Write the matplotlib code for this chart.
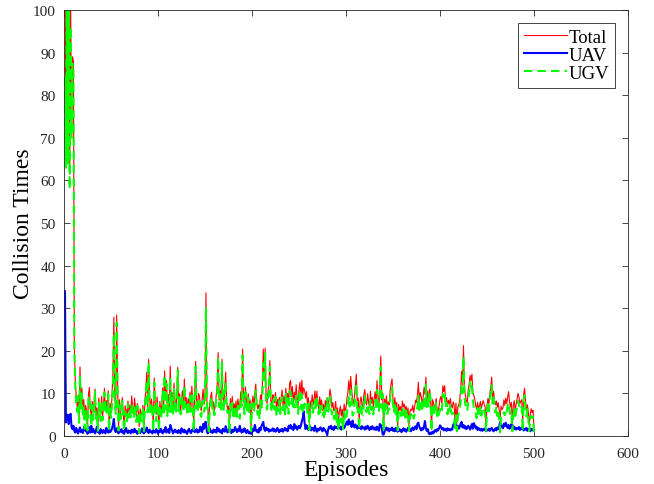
import matplotlib
matplotlib.use("Agg")
import matplotlib.pyplot as plt
import numpy as np

# Collisions per training episode
total = [
    118, 66.2, 108.5, 69.0, 104.8, 62.8, 101.2, 72.1, 89.0, 88.0,
    21.0, 12.5, 9.4, 6.8, 9.6, 4.5, 16.2, 7.4, 11.3, 5.2,
    8.6, 4.1, 7.2, 5.8, 1.8, 9.8, 11.4, 6.3, 4.7, 8.1,
    5.5, 7.9, 11.0, 4.8, 6.6, 2.1, 8.9, 6.0, 5.1, 9.3,
    4.4, 7.0, 11.2, 5.9, 8.3, 6.2, 10.6, 2.6, 7.7, 5.4,
    9.1, 14.6, 27.9, 8.8, 6.1, 28.4, 12.3, 1.9, 8.5, 4.9,
    7.4, 9.0, 5.3, 1.6, 7.1, 6.0, 4.2, 8.2, 5.6, 7.3,
    4.8, 9.4, 6.5, 5.0, 8.9, 6.8, 4.5, 7.6, 5.7, 2.2,
    6.4, 4.9, 5.3, 7.2, 1.7, 8.0, 10.8, 15.0, 6.7, 18.0,
    9.6, 5.8, 8.7, 6.3, 2.5, 13.6, 7.8, 5.1, 9.2, 6.0,
    2.4, 8.1, 5.5, 7.0, 11.3, 6.2, 15.3, 8.4, 13.0, 5.9,
    9.7, 6.4, 16.4, 7.5, 10.2, 5.3, 12.4, 8.6, 6.1, 9.8,
    16.1, 7.2, 9.9, 5.7, 8.3, 10.6, 6.5, 13.4, 7.6, 9.0,
    5.8, 8.8, 7.1, 10.3, 6.4, 11.7, 7.9, 3.1, 9.4, 17.5,
    8.1, 6.3, 10.0, 9.5, 7.2, 5.9, 8.7, 11.0, 7.4, 9.8,
    33.6, 8.2, 6.5, 2.4, 7.8, 9.1, 10.3, 6.6, 8.0, 5.9,
    7.3, 9.8, 12.1, 19.6, 8.4, 10.7, 7.5, 18.0, 9.2, 6.8,
    11.4, 15.0, 8.1, 6.2, 7.0, 2.8, 8.8, 6.1, 9.3, 5.7,
    7.6, 6.0, 8.2, 5.4, 8.7, 7.1, 6.5, 10.4, 7.8, 20.4,
    9.0, 6.9, 11.5, 8.3, 7.4, 9.9, 6.2, 8.5, 1.6, 7.7,
    9.4, 6.8, 10.1, 12.2, 8.0, 6.4, 7.3, 5.8, 9.6, 8.2,
    11.8, 20.4, 13.9, 20.6, 9.1, 7.6, 10.5, 12.0, 17.7, 8.4,
    6.9, 9.7, 9.5, 7.8, 10.2, 6.4, 8.6, 7.0, 9.1, 6.7,
    8.9, 10.8, 7.1, 9.4, 6.5, 11.2, 8.3, 10.0, 7.6, 12.4,
    13.0, 9.2, 11.6, 7.5, 10.3, 8.4, 12.0, 9.0, 7.2, 10.9,
    12.6, 8.7, 13.1, 9.6, 11.3, 10.6, 8.9, 10.4, 7.4, 9.0,
    3.0, 8.2, 6.9, 9.7, 7.3, 8.6, 10.6, 7.5, 10.5, 8.0,
    6.4, 9.2, 7.1, 8.5, 6.0, 7.4, 5.5, 8.3, 6.8, 9.0,
    7.2, 8.6, 11.0, 9.4, 6.7, 7.9, 5.9, 6.2, 8.1, 5.3,
    6.6, 3.6, 5.8, 7.0, 4.7, 6.3, 3.9, 7.5, 5.9, 6.5,
    8.8, 10.2, 13.0, 9.7, 14.0, 11.0, 8.4, 7.6, 9.3, 12.1,
    14.5, 7.0, 8.9, 3.4, 8.1, 9.2, 7.4, 6.8, 9.6, 10.9,
    8.2, 7.3, 9.9, 8.0, 6.6, 10.5, 7.7, 9.1, 6.9, 8.8,
    10.4, 7.5, 13.0, 9.3, 6.8, 11.6, 18.8, 8.5, 10.1, 1.5,
    8.7, 7.0, 9.4, 6.5, 8.0, 7.3, 10.8, 12.4, 13.4, 8.6,
    7.1, 9.0, 6.3, 7.9, 2.3, 7.4, 6.1, 6.9, 5.6, 8.2,
    6.8, 7.5, 5.9, 7.0, 5.2, 6.6, 2.5, 5.7, 6.3, 6.0,
    7.2, 5.5, 6.8, 8.4, 7.9, 9.6, 12.6, 8.3, 10.2, 9.2,
    7.6, 8.9, 11.4, 9.8, 13.8, 8.0, 10.6, 7.3, 11.0, 9.1,
    1.6, 8.5, 7.9, 6.2, 7.4, 8.8, 5.6, 5.9, 7.0, 8.6,
    9.3, 7.7, 11.8, 10.4, 11.8, 8.2, 9.0, 6.9, 8.4, 7.5,
    8.8, 7.2, 6.6, 8.0, 7.4, 3.4, 7.7, 3.0, 6.8, 7.3,
    8.5, 10.9, 15.2, 12.0, 21.2, 11.4, 9.6, 8.3, 7.8, 10.6,
    12.1, 14.2, 13.0, 14.5, 10.2, 9.5, 8.7, 7.1, 6.4, 7.9,
    6.3, 7.0, 8.1, 6.5, 7.6, 8.3, 7.4, 6.9, 2.3, 7.2,
    8.8, 7.5, 9.9, 11.4, 13.8, 9.0, 10.5, 8.4, 7.3, 8.2,
    6.7, 7.8, 6.1, 4.2, 7.0, 6.2, 6.6, 8.5, 7.2, 8.9,
    7.6, 9.1, 10.4, 8.0, 6.8, 7.9, 3.0, 7.1, 8.3, 6.0,
    7.4, 8.7, 10.0, 9.2, 7.6, 8.1, 8.5, 3.2, 9.7, 11.2,
    8.0, 6.5, 7.3, 5.6, 2.6, 4.9, 6.4, 5.5, 6.0, 2.0,
]

uav = [
    34.0, 3.2, 4.5, 5.0, 2.8, 4.8, 5.2, 2.1, 1.6, 2.4,
    1.2, 0.8, 1.9, 1.1, 0.6, 1.4, 2.0, 0.9, 1.3, 0.7,
    1.8, 2.4, 1.1, 1.5, 0.5, 1.2, 2.1, 0.8, 2.4, 0.9,
    1.7, 1.0, 0.6, 1.3, 2.2, 0.9, 1.1, 0.5, 1.6, 1.2,
    0.7, 1.4, 1.0, 0.6, 1.9, 1.1, 0.8, 1.5, 0.9, 1.2,
    1.7, 2.6, 4.0, 1.4, 0.9, 1.8, 1.1, 0.6, 1.3, 1.0,
    1.6, 0.8, 1.2, 0.5, 1.4, 1.9, 0.9, 0.7, 1.3, 1.0,
    0.6, 1.5, 1.1, 0.8, 1.7, 0.9, 1.2, 0.5, 1.0, 1.4,
    0.7, 1.1, 1.8, 0.9, 0.6, 1.3, 1.0, 2.0, 1.2, 0.7,
    1.5, 0.9, 1.1, 0.6, 1.4, 1.0, 0.8, 1.6, 1.2, 0.5,
    1.3, 0.9, 1.7, 1.1, 0.6, 1.4, 1.0, 2.1, 0.8, 1.2,
    1.6, 0.7, 2.6, 1.9, 1.3, 0.6, 1.1, 1.5, 0.9, 1.2,
    0.7, 1.4, 1.0, 0.6, 1.8, 1.2, 0.9, 1.5, 0.8, 1.1,
    0.5, 1.3, 1.7, 1.0, 0.7, 1.4, 1.1, 2.0, 0.9, 1.2,
    1.6, 0.8, 1.3, 1.0, 2.2, 1.4, 0.9, 2.8, 1.7, 3.2,
    3.3, 1.0, 0.6, 1.3, 1.8, 0.9, 1.2, 0.7, 1.5, 1.0,
    1.4, 0.8, 2.0, 1.1, 1.6, 0.9, 1.3, 0.6, 1.7, 1.2,
    1.0, 2.3, 1.4, 0.8, 1.1, 1.9, 1.3, 0.7, 1.5, 1.0,
    1.2, 2.1, 1.4, 0.9, 1.6, 1.1, 2.4, 1.3, 0.8, 1.5,
    1.0, 1.8, 1.2, 0.7, 1.4, 0.9, 0.6, 1.0, 0.5, 0.8,
    1.7, 1.2, 2.6, 1.5, 1.0, 1.4, 0.8, 1.9, 1.3, 2.3,
    2.8, 3.3, 1.6, 1.2, 2.0, 1.4, 1.7, 1.0, 1.5, 1.2,
    1.3, 1.8, 1.1, 1.6, 1.0, 1.4, 1.9, 1.2, 0.9, 1.5,
    1.2, 1.7, 1.0, 1.5, 1.9, 1.3, 1.6, 1.1, 2.4, 1.8,
    2.6, 1.7, 2.1, 1.4, 2.8, 1.9, 2.3, 1.5, 2.0, 2.4,
    1.8, 2.4, 3.4, 4.2, 5.8, 3.0, 1.6, 2.5, 2.0, 1.4,
    1.6, 2.2, 1.3, 1.9, 1.8, 1.2, 2.4, 1.5, 1.0, 1.7,
    1.3, 1.8, 2.0, 1.4, 1.1, 1.9, 1.6, 1.2, 0.9, 0.2,
    1.5, 2.2, 1.8, 2.4, 1.6, 2.0, 1.4, 2.3, 1.9, 2.1,
    1.7, 2.4, 1.8, 2.2, 1.5, 2.0, 2.6, 1.8, 2.3, 2.9,
    3.4, 2.6, 3.9, 2.8, 3.2, 2.1, 3.6, 2.4, 2.0, 2.7,
    2.2, 1.7, 2.5, 1.9, 2.1, 1.6, 2.3, 1.8, 2.0, 1.5,
    2.2, 1.7, 2.4, 1.9, 1.4, 2.1, 1.6, 2.3, 1.8, 1.5,
    2.0, 1.4, 2.2, 1.7, 1.2, 2.8, 2.6, 1.9, 0.4, 0.3,
    1.0, 1.6, 2.0, 1.3, 1.8, 1.1, 1.7, 1.4, 2.0, 1.2,
    1.6, 1.1, 1.9, 1.3, 1.0, 1.7, 1.2, 1.5, 0.9, 1.4,
    1.8, 1.2, 1.6, 1.0, 1.4, 1.9, 1.3, 1.7, 1.1, 1.5,
    2.0, 1.4, 1.8, 2.3, 1.6, 2.9, 3.1, 2.2, 1.7, 1.3,
    1.9, 1.5, 2.2, 3.5, 1.8, 1.2, 1.6, 0.6, 0.4, 0.8,
    0.5, 1.0, 0.6, 1.2, 1.4, 1.0, 1.6, 1.3, 1.8, 2.5,
    2.2, 1.6, 1.9, 1.3, 1.7, 1.5, 1.2, 1.8, 1.4, 1.6,
    1.3, 1.7, 1.5, 2.6, 3.0, 2.2, 2.8, 1.9, 2.4, 1.7,
    2.1, 2.9, 3.3, 2.0, 2.6, 1.8, 2.3, 1.6, 1.9, 2.4,
    2.0, 1.5, 2.2, 2.8, 1.7, 3.0, 2.5, 1.8, 2.2, 1.4,
    1.9, 1.5, 1.3, 1.7, 1.2, 1.6, 1.4, 1.8, 1.1, 1.5,
    1.3, 1.7, 1.2, 1.6, 1.9, 1.4, 1.1, 1.5, 1.8, 1.3,
    2.0, 1.6, 2.2, 3.3, 2.7, 2.1, 1.8, 2.9, 2.3, 3.1,
    2.4, 1.9, 2.6, 1.7, 2.2, 2.8, 1.9, 2.4, 1.6, 2.0,
    1.5, 1.9, 1.7, 2.1, 1.4, 1.8, 1.6, 2.0, 1.3, 1.7,
    1.5, 1.9, 1.2, 1.6, 1.4, 1.1, 1.7, 1.3, 1.5, 1.4,
]

ugv = [
    84.0, 63.0, 104.0, 64.0, 102.0, 58.0, 96.0, 70.0, 87.4, 85.6,
    19.8, 11.7, 7.5, 5.7, 9.0, 3.1, 14.2, 6.5, 10.0, 4.5,
    6.8, 1.7, 6.1, 4.3, 1.3, 8.6, 9.3, 5.5, 2.3, 7.2,
    3.8, 6.9, 10.4, 3.5, 4.4, 1.2, 7.8, 5.5, 3.5, 8.1,
    3.7, 5.6, 10.2, 5.3, 6.4, 5.1, 9.8, 1.1, 6.8, 4.2,
    7.4, 12.0, 23.9, 7.4, 5.2, 26.6, 11.2, 1.3, 7.2, 3.9,
    5.8, 8.2, 4.1, 1.1, 5.7, 4.1, 3.3, 7.5, 4.3, 6.3,
    4.2, 7.9, 5.4, 4.2, 7.2, 5.9, 3.3, 7.1, 4.7, 0.8,
    5.7, 3.8, 3.5, 6.3, 1.1, 6.7, 9.8, 13.0, 5.5, 17.3,
    8.1, 4.9, 7.6, 5.7, 1.1, 12.6, 7.0, 3.5, 8.0, 5.5,
    1.1, 7.2, 3.8, 5.9, 10.7, 4.8, 14.3, 6.3, 12.2, 4.7,
    8.1, 5.7, 13.8, 5.6, 8.9, 4.7, 11.3, 7.1, 5.2, 8.6,
    15.4, 5.8, 8.9, 5.1, 6.5, 9.4, 5.6, 11.9, 6.8, 7.9,
    5.3, 7.5, 5.4, 9.3, 5.7, 10.3, 6.8, 1.1, 8.5, 16.3,
    6.5, 5.5, 8.7, 8.5, 5.0, 4.5, 7.8, 8.2, 5.7, 6.6,
    30.3, 7.2, 5.9, 1.1, 6.0, 8.2, 9.1, 5.9, 6.5, 4.9,
    5.9, 9.0, 10.1, 18.5, 6.8, 9.8, 6.2, 17.4, 7.5, 5.6,
    10.4, 12.7, 6.7, 5.4, 5.9, 0.9, 7.5, 5.4, 7.8, 4.7,
    6.4, 3.9, 6.8, 4.5, 7.1, 6.0, 4.1, 9.1, 7.0, 18.9,
    8.0, 5.1, 10.3, 7.6, 6.0, 9.0, 5.6, 7.5, 1.1, 6.9,
    7.7, 5.6, 7.5, 10.7, 7.0, 5.0, 6.5, 3.9, 8.3, 5.9,
    9.0, 17.1, 12.3, 19.4, 7.1, 6.2, 8.8, 11.0, 16.2, 7.2,
    5.6, 7.9, 8.4, 6.2, 9.2, 5.0, 6.7, 5.8, 8.2, 5.2,
    7.7, 9.1, 6.1, 7.9, 4.6, 9.9, 6.7, 8.9, 5.2, 10.6,
    10.4, 7.5, 9.5, 6.1, 7.5, 6.5, 9.7, 7.5, 5.2, 8.5,
    10.8, 6.3, 9.7, 5.4, 5.5, 7.6, 7.3, 7.9, 5.4, 7.6,
    1.4, 6.0, 5.6, 7.8, 5.5, 7.4, 8.2, 6.0, 9.5, 6.3,
    5.1, 7.4, 5.1, 7.1, 4.9, 5.5, 3.9, 7.1, 5.9, 8.8,
    5.7, 6.4, 9.2, 7.0, 5.1, 5.9, 4.5, 3.9, 6.2, 3.2,
    4.9, 1.2, 4.0, 4.8, 3.2, 4.3, 1.3, 5.7, 3.6, 3.6,
    5.4, 7.6, 9.1, 6.9, 10.8, 8.9, 4.8, 5.2, 7.3, 9.4,
    12.3, 5.3, 6.4, 1.5, 6.0, 7.6, 5.1, 5.0, 7.6, 9.4,
    6.0, 5.6, 7.5, 6.1, 5.2, 8.4, 6.1, 6.8, 5.1, 7.3,
    8.4, 6.1, 10.8, 7.6, 5.6, 8.8, 16.2, 6.6, 9.7, 1.2,
    7.7, 5.4, 7.4, 5.2, 6.2, 6.2, 9.1, 11.0, 11.4, 7.4,
    5.5, 7.9, 4.4, 6.6, 1.3, 5.7, 4.9, 5.4, 4.7, 6.8,
    5.0, 6.3, 4.3, 6.0, 3.8, 4.7, 1.2, 4.0, 5.2, 4.5,
    5.2, 4.1, 5.0, 6.1, 6.3, 6.7, 9.5, 6.1, 8.5, 7.9,
    5.7, 7.4, 9.2, 6.3, 12.0, 6.8, 9.0, 6.7, 10.6, 8.3,
    1.1, 7.5, 7.3, 5.0, 6.0, 7.8, 4.0, 4.6, 5.2, 6.1,
    7.1, 6.1, 9.9, 9.1, 10.1, 6.7, 7.8, 5.1, 7.0, 5.9,
    7.5, 5.5, 5.1, 5.4, 4.4, 1.2, 4.9, 1.1, 4.4, 5.6,
    6.4, 8.0, 11.9, 10.0, 18.6, 9.6, 7.3, 6.7, 5.9, 8.2,
    10.1, 12.7, 10.8, 11.7, 8.5, 6.5, 6.2, 5.3, 4.2, 6.5,
    4.4, 5.5, 6.8, 4.8, 6.4, 6.7, 6.0, 5.1, 1.2, 5.7,
    7.5, 5.8, 8.7, 9.8, 11.9, 7.6, 9.4, 6.9, 5.5, 6.9,
    4.7, 6.2, 3.9, 0.9, 4.3, 4.1, 4.8, 5.6, 4.9, 5.8,
    5.2, 7.2, 7.8, 6.3, 4.6, 5.1, 1.1, 4.7, 6.7, 4.0,
    5.9, 6.8, 8.3, 7.1, 6.2, 6.3, 6.9, 1.2, 8.4, 9.5,
    6.5, 4.6, 6.1, 4.0, 1.2, 3.8, 4.7, 4.2, 4.5, 0.6,
]

episodes = np.arange(1, len(total) + 1)
x_ticks = [0, 100, 200, 300, 400, 500, 600]
y_ticks = [0, 10, 20, 30, 40, 50, 60, 70, 80, 90, 100]

plt.rcParams["font.family"] = ["Liberation Serif", "DejaVu Serif"]

fig = plt.figure(figsize=(6.54, 4.85), dpi=100)
ax = fig.add_axes([0.0979, 0.099, 0.8623, 0.8783])

ax.plot(episodes, total, color=(1, 0, 0), lw=0.8, label="Total")
ax.plot(episodes, uav, color=(0, 0, 1), lw=1.5, label="UAV")
ax.plot(episodes, ugv, color=(0, 1, 0), lw=1.5, ls=(0, (4, 2.5)), label="UGV")

ax.set_xlim(0, 600)
ax.set_ylim(0, 100)
ax.set_xticks(x_ticks)
ax.set_yticks(y_ticks)
ax.tick_params(direction="in", top=True, right=True, length=4, width=0.6,
               labelsize=11, colors="#262626")
ax.tick_params(axis="x", pad=8)
ax.tick_params(axis="y", pad=6)
for s in ax.spines.values():
    s.set_linewidth(0.6)
    s.set_color("#262626")

ax.set_xlabel("Episodes", fontsize=17, labelpad=-1)
ax.set_ylabel("Collision Times", fontsize=17, labelpad=-1)

leg = ax.legend(loc="upper right", fontsize=13.5, frameon=True, fancybox=False,
                edgecolor="#262626", framealpha=1, handlelength=2.3,
                handletextpad=0.1, borderpad=0.3, labelspacing=0.05,
                borderaxespad=0.7)
leg.get_frame().set_linewidth(0.6)

fig.savefig("out.png", dpi=100)
